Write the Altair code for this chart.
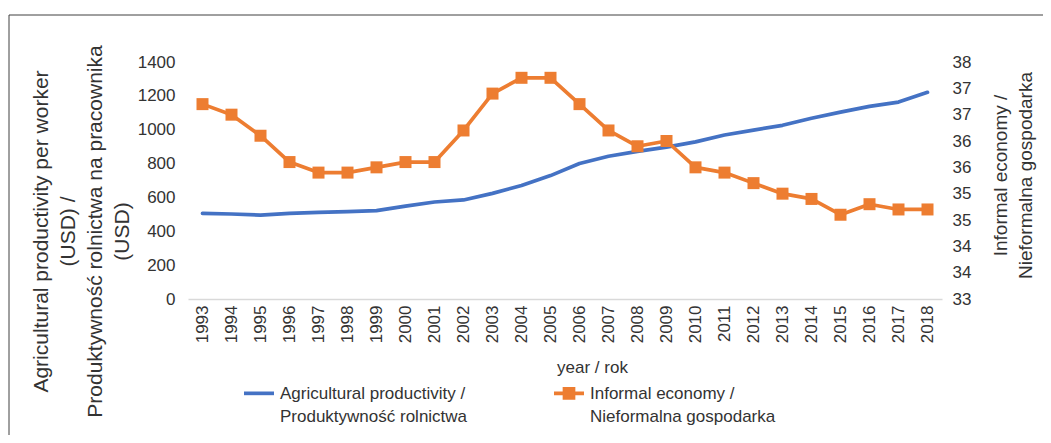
import altair as alt
import pandas as pd

years = list(range(1993, 2019))
agri_productivity = [506, 502, 496, 506, 512, 516, 522, 549, 573, 585, 624, 670, 729,
                     800, 843, 872, 897, 928, 969, 998, 1026, 1068, 1104, 1138, 1163, 1221]
informal_economy = [36.7, 36.5, 36.1, 35.6, 35.4, 35.4, 35.5, 35.6, 35.6, 36.2, 36.9, 37.2, 37.2,
                    36.7, 36.2, 35.9, 36.0, 35.5, 35.4, 35.2, 35.0, 34.9, 34.6, 34.8, 34.7, 34.7]
series_a = "Agricultural productivity /|Produktywność rolnictwa"
series_i = "Informal economy /|Nieformalna gospodarka"
left_ticks = [0, 200, 400, 600, 800, 1000, 1200, 1400]
right_ticks = [33, 33.5, 34, 34.5, 35, 35.5, 36, 36.5, 37, 37.5]

BLUE = "#4472C4"
ORANGE = "#ED7D31"
TXT = "#333333"
FONT = "Liberation Sans"

df_a = pd.DataFrame({"year": years, "value": agri_productivity, "series": series_a})
df_i = pd.DataFrame({"year": years, "value": informal_economy, "series": series_i})

x_enc = alt.X(
    "year:O",
    scale=alt.Scale(type="point", padding=0.5),
    axis=alt.Axis(
        title="year / rok", labelAngle=270, labelFontSize=17, labelColor=TXT,
        labelPadding=6, ticks=False, domainColor="#D9D9D9", domainWidth=1.3,
        titleFontSize=17, titleFontWeight="normal", titleColor=TXT,
        titleX=404, titleY=68, titleAlign="center", titleBaseline="middle",
        grid=False,
    ),
)

blue = alt.Chart(df_a).mark_line(strokeWidth=3.7, strokeJoin="round", strokeCap="round").encode(
    x=x_enc,
    y=alt.Y(
        "value:Q",
        scale=alt.Scale(domain=[0, 1400], nice=False),
        axis=alt.Axis(
            values=left_ticks, format="d", grid=False, domain=False, ticks=False,
            labelFontSize=17, labelColor=TXT, labelPadding=13,
            title=["Agricultural productivity per worker", "(USD) /",
                   "Produktywność rolnictwa na pracownika", "(USD)"],
            titleFontSize=21, titleFontWeight="normal", titleColor=TXT,
            titleAngle=270, titleX=-147, titleY=169, titleAlign="center",
            titleBaseline="middle", titleLineHeight=27,
        ),
    ),
    color=alt.Color(
        "series:N",
        scale=alt.Scale(domain=[series_a], range=[BLUE]),
        legend=alt.Legend(
            title=None, orient="none", legendX=54, legendY=307, padding=0,
            symbolType="M-1,0.49H1", symbolSize=900, symbolStrokeWidth=3.7,
            symbolStrokeColor=BLUE,
            labelExpr="split(datum.label, '|')", labelBaseline="top",
            labelFontSize=17, labelColor=TXT, labelFont=FONT, labelLimit=400,
        ),
    ),
)

orange = alt.Chart(df_i).mark_line(
    strokeWidth=3.7, strokeJoin="round",
    point=alt.OverlayMarkDef(shape="square", size=144, filled=True, opacity=1),
).encode(
    x=x_enc,
    y=alt.Y(
        "value:Q",
        scale=alt.Scale(domain=[33, 37.5], nice=False, zero=False),
        axis=alt.Axis(
            orient="right", values=right_ticks, grid=False, domain=False, ticks=False,
            labelFontSize=17, labelColor=TXT, labelPadding=10,
            labelExpr="round(datum.value)",
            title=["Informal economy /", "Nieformalna gospodarka"],
            titleFontSize=19, titleFontWeight="normal", titleColor=TXT,
            titleAngle=270, titleX=58, titleY=113, titleAlign="center",
            titleBaseline="middle", titleLineHeight=25,
        ),
    ),
    color=alt.Color(
        "series:N",
        scale=alt.Scale(domain=[series_i], range=[ORANGE]),
        legend=alt.Legend(
            title=None, orient="none", legendX=364, legendY=307, padding=0,
            symbolType="M-1,0.49H1M-0.3,0.19H0.3V0.79H-0.3Z", symbolSize=900,
            symbolStrokeWidth=3.7, symbolStrokeColor=ORANGE, symbolFillColor=ORANGE,
            labelExpr="split(datum.label, '|')", labelBaseline="top",
            labelFontSize=17, labelColor=TXT, labelFont=FONT, labelLimit=400,
        ),
    ),
)

frame_df = pd.DataFrame({"k": [0]})
frame_top = alt.Chart(frame_df).mark_rule(color="#404040", strokeWidth=1).encode(
    x=alt.value(-179), x2=alt.value(870), y=alt.value(-47)
)
frame_left = alt.Chart(frame_df).mark_rule(color="#404040", strokeWidth=1).encode(
    x=alt.value(-179), y=alt.value(-47), y2=alt.value(400)
)

chart = (
    alt.layer(blue, orange, frame_top, frame_left)
    .resolve_scale(y="independent", color="independent")
    .properties(
        width=754, height=237,
        autosize=alt.AutoSizeParams(type="none"),
        padding={"left": 180, "top": 54, "right": 101, "bottom": 136},
    )
    .configure(font=FONT, style={"guide-label": {"lineHeight": 23}})
    .configure_view(stroke=None)
)

chart.save("out.html", embed_options={"renderer": "svg", "actions": False})
